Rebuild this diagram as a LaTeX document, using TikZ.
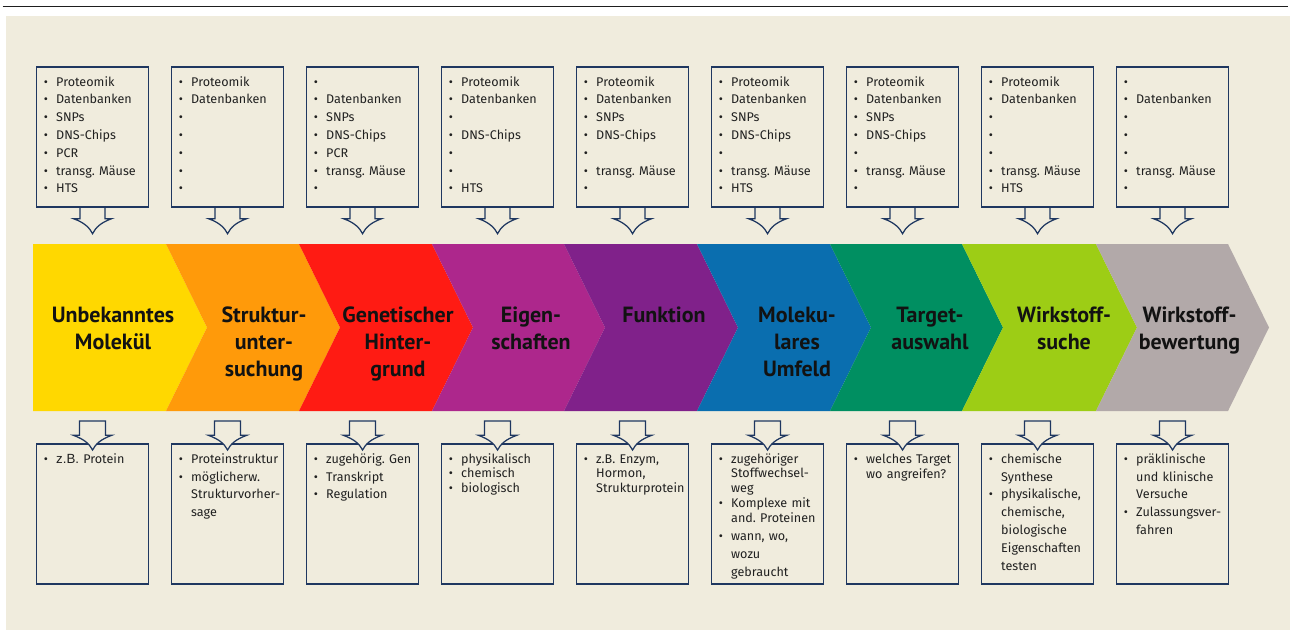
\documentclass[tikz,border=0pt]{standalone}
\usepackage{fontspec}
\setmainfont{Fira Sans}
\newfontfamily\chevfont{PT Sans}
\newfontfamily\zbfont{Liberation Sans}
\usetikzlibrary{calc}
\frenchspacing
\definecolor{bgbeige}{HTML}{F0ECDD}
\definecolor{boxblue}{HTML}{1F3760}
\definecolor{txt}{HTML}{202020}
\definecolor{rulecol}{HTML}{1E1E1E}
\definecolor{cyel}{HTML}{FFD800}
\definecolor{corg}{HTML}{FF9A0A}
\definecolor{cred}{HTML}{FF1B13}
\definecolor{cmag}{HTML}{AD278C}
\definecolor{cpur}{HTML}{80218A}
\definecolor{cblu}{HTML}{0A6EAF}
\definecolor{cgrn}{HTML}{008F61}
\definecolor{clim}{HTML}{9DCD15}
\definecolor{cgry}{HTML}{B2A9A9}
\newcommand\myb{\makebox[12.3pt][l]{•}}
\newcommand\myi{\hspace*{12.3pt}}
\newcommand\toparrow[1]{%
  \draw[arrowst] ([xshift=-12.5pt]#1.south) -- ++(0,11) -- ++(-6.5,0)
    .. controls +(11,4) and +(-3,-6) .. ([yshift=-26pt]#1.south)
    .. controls +(3,-6) and +(-11,4) .. ([shift={(19pt,-11pt)}]#1.south)
    -- ++(-6.5,0) -- ++(0,-11);}
\newcommand\botarrow[1]{%
  \draw[arrowst, fill=bgbeige] ([shift={(-13pt,22.3pt)}]#1.north) -- ++(0,14.3) -- ++(-6.2,0)
    .. controls +(11,4) and +(-3,-6) .. ([yshift=-6.7pt]#1.north)
    .. controls +(3,-6) and +(-11,4) .. ([shift={(19.2pt,8pt)}]#1.north)
    -- ++(-6.2,0) -- ++(0,-14.3) -- cycle;}
\begin{document}
\begin{tikzpicture}[x=1pt,y=-1pt,
  boxst/.style={draw=boxblue, line width=1.4pt, minimum width=111.7pt, minimum height=140pt, inner sep=0pt},
  arrowst/.style={draw=boxblue, line width=1.25pt, line join=miter},
  chevtext/.style={anchor=base, inner sep=0pt, text width=140pt, align=center,
    font=\chevfont\bfseries\fontsize{22}{27}\selectfont, text=black!93},
  boxtext/.style={anchor=base west, inner sep=0pt, text width=108pt, align=left,
    font=\frenchspacing\fontsize{12.6}{17.8}\selectfont, text=txt},
  tightbox/.style={boxtext, font=\frenchspacing\fontsize{12.6}{14.4}\selectfont}]
\useasboundingbox (0,0) rectangle (1290,630);
\fill[bgbeige] (6,16) rectangle (1290,630);
\draw[rulecol, line width=1.6pt] (2.5,6.5) -- (1288,6.5);
% chevrons
\foreach \b/\n/\d/\col in {33/166/0/cyel, 166/299/41/corg, 299/432/41/cred, 432/564/41/cmag,
   564/697/41/cpur, 697/830/41/cblu, 830/962/41/cgrn, 962/1096/41/clim, 1096/1228/41/cgry} {
  \fill[\col] (\b,244) -- (\n,244) -- (\n+41,327.5) -- (\n,411) -- (\b,411) -- (\b+\d,327.5) -- cycle;
}
\node[chevtext] (c1) at (113,322.5) {Unbekanntes\\Molekül};
\node[chevtext] (c2) at (264,322.5) {Struktur-\\unter-\\suchung};
\node[chevtext] (c3) at (398,322.5) {Genetischer\\Hinter-\\grund};
\node[chevtext] (c4) at (531,322.5) {Eigen-\\schaften};
\node[chevtext] (c5) at (664,322.5) {Funktion};
\node[chevtext] (c6) at (797,322.5) {Moleku-\\lares\\Umfeld};
\node[chevtext] (c7) at (930,322.5) {Target-\\auswahl};
\node[chevtext] (c8) at (1064,322.5) {Wirkstoff-\\suche};
\node[chevtext] (c9) at (1189.5,322.5) {Wirkstoff-\\bewertung};
% boxes and arrows
\foreach \i in {1,...,9} {
  \pgfmathsetmacro\cx{92.55+135*(\i-1)}
  \node[boxst] (t\i) at (\cx,137) {};
  \node[boxst] (b\i) at (\cx,514) {};
  \toparrow{t\i}
  \botarrow{b\i}
}
% top texts
\node[boxtext] (tt1) at (43.7,86) {\myb Proteomik\\\myb Datenbanken\\\myb SNPs\\\myb DNS-Chips\\\myb PCR\\\myb transg. Mäuse\\\myb HTS};
\node[boxtext] (tt2) at (178.7,86) {\myb Proteomik\\\myb Datenbanken\\\myb\\\myb\\\myb\\\myb\\\myb};
\node[boxtext] (tt3) at (313.7,86) {\myb\\\myb Datenbanken\\\myb SNPs\\\myb DNS-Chips\\\myb PCR\\\myb transg. Mäuse\\\myb};
\node[boxtext] (tt4) at (448.7,86) {\myb Proteomik\\\myb Datenbanken\\\myb\\\myb DNS-Chips\\\myb\\\myb\\\myb HTS};
\node[boxtext] (tt5) at (583.7,86) {\myb Proteomik\\\myb Datenbanken\\\myb SNPs\\\myb DNS-Chips\\\myb\\\myb transg. Mäuse\\\myb};
\node[boxtext] (tt6) at (718.7,86) {\myb Proteomik\\\myb Datenbanken\\\myb SNPs\\\myb DNS-Chips\\\myb\\\myb transg. Mäuse\\\myb HTS};
\node[boxtext] (tt7) at (853.7,86) {\myb Proteomik\\\myb Datenbanken\\\myb SNPs\\\myb DNS-Chips\\\myb\\\myb transg. Mäuse\\\myb};
\node[boxtext] (tt8) at (988.7,86) {\myb Proteomik\\\myb Datenbanken\\\myb\\\myb\\\myb\\\myb transg. Mäuse\\\myb HTS};
\node[boxtext] (tt9) at (1123.7,86) {\myb\\\myb Datenbanken\\\myb\\\myb\\\myb\\\myb transg. Mäuse\\\myb};
% bottom texts
\node[boxtext] (bt1) at (43.7,463.3) {\myb{\zbfont\fontsize{13.3}{17.8}\selectfont z.B.} Protein};
\node[boxtext] (bt2) at (178.7,463.3) {\myb Proteinstruktur\\\myb möglicherw.\\\myi Strukturvorher-\\\myi sage};
\node[boxtext] (bt3) at (313.7,463.3) {\myb zugehörig. Gen\\\myb Transkript\\\myb Regulation};
\node[tightbox] (bt4) at (448.7,463.3) {\myb physikalisch\\\myb chemisch\\\myb biologisch};
\node[tightbox] (bt5) at (583.7,463.3) {\myb z.B. Enzym,\\\myi Hormon,\\\myi Strukturprotein};
\node[tightbox] (bt6) at (718.7,463.3) {\myb zugehöriger\\\myi Stoffwechsel-\\\myi weg\\[1.4pt]\myb Komplexe mit\\\myi and. Proteinen\\[3.9pt]\myb wann, wo,\\[3.4pt]\myi wozu\\[3.6pt]\myi gebraucht};
\node[boxtext, font=\frenchspacing\fontsize{12.6}{15}\selectfont] (bt7) at (853.7,463.3) {\myb welches Target\\\myi wo angreifen?};
\node[boxtext] (bt8) at (988.7,463.3) {\myb chemische\\\myi Synthese\\\myb physikalische,\\\myi chemische,\\\myi biologische\\\myi Eigenschaften\\\myi testen};
\node[boxtext] (bt9) at (1123.7,463.3) {\myb präklinische\\\myi und klinische\\\myi Versuche\\\myb Zulassungsver-\\\myi fahren};
\end{tikzpicture}
\end{document}
